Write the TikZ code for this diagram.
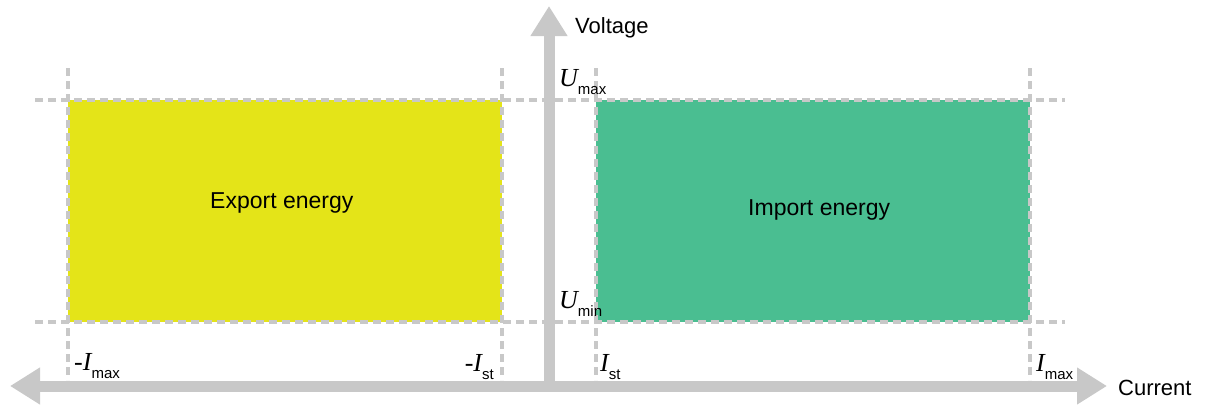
\documentclass[tikz,border=0pt]{standalone}
\usepackage{fontspec}
\setmainfont{Liberation Sans}
\newfontfamily\lserif{Liberation Serif}
\usepackage{tikz}
\usetikzlibrary{arrows.meta}
\definecolor{axisgray}{RGB}{200,200,200}
\definecolor{exportyellow}{RGB}{228,228,24}
\definecolor{importgreen}{RGB}{74,190,145}
\newcommand{\axlabel}[2]{{\lserif\itshape\fontsize{26}{26}\selectfont #1}\raisebox{-8pt}{\fontsize{15}{15}\selectfont #2}}
\tikzset{
  guide/.style={draw=axisgray,line width=3.5pt,dash pattern=on 8pt off 5pt},
  axisline/.style={draw=axisgray,line width=11pt},
  lbl/.style={inner sep=0pt,anchor=base west},
  areatext/.style={inner sep=0pt,anchor=base west,font=\fontsize{23}{27}\selectfont}
}

\begin{document}
\begin{tikzpicture}[x=1pt,y=-1pt]
  \useasboundingbox (0,0) rectangle (1210,405);
  % operating areas: export left of the voltage axis, import right of it
  \fill[exportyellow] (68,100) rectangle (502,322);
  \fill[importgreen] (596,100) rectangle (1030,322);
  % limit lines
  \draw[guide] (35,100) -- (1065,100);   % U max
  \draw[guide] (35,322) -- (1065,322);   % U min
  \foreach \x in {68,502,596,1030}{
    \draw[guide] (\x,68) -- (\x,380);
  }
  % axes
  \coordinate (cleft) at (10,386);
  \coordinate (cright) at (1107,386);
  \coordinate (vbot) at (549,386);
  \coordinate (vtop) at (549,6);
  \draw[axisline,{Triangle[length=30pt,width=35pt]}-{Triangle[length=30pt,width=35pt]}] (cleft) -- (cright);
  \draw[axisline,-{Triangle[length=30pt,width=35pt]}] (vbot) -- (vtop);
  \node[lbl,font=\fontsize{22}{26}\selectfont] (voltage) at (575,33) {Voltage};
  \node[lbl,font=\fontsize{22}{26}\selectfont] (current) at (1118,395) {Current};
  % area names
  \node[areatext] (export) at (210,208) {Export energy};
  \node[areatext] (import) at (748,215) {Import energy};
  % limit labels
  \node[lbl] (umax) at (559,86) {\axlabel{U}{max}};
  \node[lbl] (umin) at (559,308) {\axlabel{U}{min}};
  \node[lbl] (nimax) at (74,370) {\axlabel{-I}{max}};
  \node[lbl,anchor=base east] (nist) at (494,371) {\axlabel{-I}{st}};
  \node[lbl] (ist) at (600,371) {\axlabel{I}{st}};
  \node[lbl] (imax) at (1036,371) {\axlabel{I}{max}};
\end{tikzpicture}
\end{document}
